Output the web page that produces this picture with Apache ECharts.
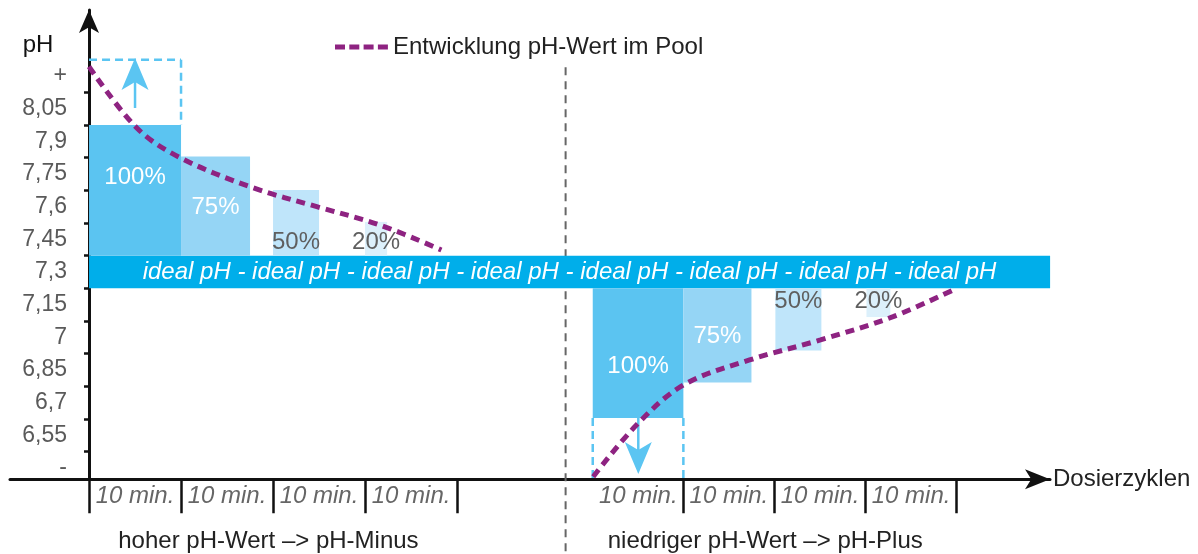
<!DOCTYPE html>
<html><head><meta charset="utf-8">
<script src="https://cdn.jsdelivr.net/npm/echarts@6/dist/echarts.min.js"></script>
<style>html,body{margin:0;padding:0;background:#fff}#c{width:1198px;height:554px}</style>
</head><body><div id="c"></div>
<script>
// ---------------- data ----------------
const yLabelValues = [6.4, 6.55, 6.7, 6.85, 7.0, 7.15, 7.3, 7.45, 7.6, 7.75, 7.9, 8.05, 8.2];
const yTickLabels  = ['-', '6,55', '6,7', '6,85', '7', '7,15', '7,3', '7,45', '7,6', '7,75', '7,9', '8,05', '+'];
const yTickValues  = [6.475, 6.625, 6.775, 6.925, 7.075, 7.225, 7.375, 7.525, 7.675, 7.825, 7.975, 8.125];
const xTickValues  = [0, 1, 2, 3, 4, 6.46, 7.45, 8.44, 9.43];
const xLabelValues = [0.5, 1.5, 2.5, 3.5, 5.97, 6.955, 7.945, 8.935];
const xLabelText   = '10 min.';
const groupLabelValues = [1.95, 7.35];
const groupLabels  = ['hoher pH-Wert –> pH-Minus', 'niedriger pH-Wert –> pH-Plus'];
const idealBand    = [[0, 10.446, 7.225, 7.375]];
const idealText    = Array(8).fill('ideal pH').join(' - ');
// [xStart, xEnd, pH at ideal-band edge, pH reached, dosing %]
const dosingBars = [
  [0,     1,    7.375, 7.975, 100],
  [1,     1.75, 7.375, 7.83,  75],
  [2,     2.5,  7.375, 7.677, 50],
  [3,     3.24, 7.375, 7.53,  20],
  [5.475, 6.46, 7.225, 6.63,  100],
  [6.46,  7.2,  7.225, 6.792, 75],
  [7.46,  7.96, 7.225, 6.939, 50],
  [8.45,  8.71, 7.225, 7.093, 20]
];
const phHighCurve = [[0, 8.243], [0.52, 7.961], [0.99, 7.825], [1.78, 7.687], [2.475, 7.600], [3.16, 7.516], [3.83, 7.401]];
const phLowCurve  = [[5.48, 6.36], [5.95, 6.597], [6.46, 6.781], [7.18, 6.896], [7.95, 6.988], [8.74, 7.095], [9.43, 7.225]];
const limitBoxEdges = [[0, 8.274, 1, 8.274], [1, 8.274, 1, 7.975], [5.475, 6.63, 5.475, 6.348], [6.46, 6.63, 6.46, 6.348]];
const limitArrows = [[0.5, 8.053, 8.283], [5.97, 6.63, 6.372]];
const divider = [[5.18, 8.24, 6.0]];
const seriesName = 'Entwicklung pH-Wert im Pool';
const X_MIN = -0.859, X_MAX = 10.445, Y_MIN = 6.348, Y_MAX = 8.503;

// ---------------- styles ----------------
const FONT = "'Liberation Sans', Arial, sans-serif";
const barColor = {100: '#5bc4f1', 75: '#95d5f5', 50: '#bfe5fa', 20: '#dcf0fb'};
const labelColor = {100: '#ffffff', 75: '#ffffff', 50: '#5f5f5f', 20: '#5f5f5f'};
const labelDist = {100: 78, 75: 48, 50: 13.5, 20: 13.5};
const LIGHT_BLUE = '#5bc5f2';
const PURPLE = '#8e2381';
const LEGEND_ICON = 'path://M0,0h10v5h-10z M14.3,0h10v5h-10z M28.6,0h10v5h-10z M42.9,0h10v5h-10z';

const chart = echarts.init(document.getElementById('c'), null, {renderer: 'canvas'});

function nearestIdx(arr, v) {
  let b = 0;
  for (let i = 1; i < arr.length; i++) if (Math.abs(arr[i] - v) < Math.abs(arr[b] - v)) b = i;
  return b;
}

const option = {
  animation: false,
  backgroundColor: '#fff',
  grid: {left: 10, right: 148, top: 10, bottom: 74.7, outerBoundsMode: 'none'},
  legend: {
    data: [{name: seriesName, icon: LEGEND_ICON}], left: 330, top: 30, itemWidth: 53, itemHeight: 5,
    textStyle: {fontSize: 24, color: '#222', fontFamily: FONT}
  },
  xAxis: [{
    type: 'value', min: X_MIN, max: X_MAX,
    axisLine: {show: true, onZero: false, symbol: ['none', 'arrow'], symbolSize: [15, 25],
      lineStyle: {color: '#111', width: 3}},
    axisTick: {show: true, customValues: xTickValues, length: 34, lineStyle: {color: '#111', width: 2.5}},
    axisLabel: {show: true, customValues: xLabelValues, formatter: () => xLabelText,
      fontStyle: 'italic', fontSize: 24, color: '#666', fontFamily: FONT, margin: 5},
    splitLine: {show: false},
    name: 'Dosierzyklen', nameLocation: 'end', nameGap: 3,
    nameTextStyle: {fontSize: 24, color: '#222', fontFamily: FONT}
  }, {
    type: 'value', min: X_MIN, max: X_MAX, position: 'bottom',
    axisLine: {show: false, onZero: false}, axisTick: {show: false}, splitLine: {show: false},
    axisLabel: {show: true, customValues: groupLabelValues,
      formatter: (v) => groupLabels[nearestIdx(groupLabelValues, v)],
      fontSize: 24, color: '#222', fontFamily: FONT, margin: 50}
  }],
  yAxis: {
    type: 'value', min: Y_MIN, max: Y_MAX, position: 'left', offset: -79,
    axisLine: {show: true, onZero: false, symbol: ['none', 'arrow'], symbolSize: [15, 23],
      lineStyle: {color: '#111', width: 3}},
    axisTick: {show: true, customValues: yTickValues, length: 5, lineStyle: {color: '#111', width: 2.5}},
    axisLabel: {show: true, customValues: yLabelValues,
      formatter: (v) => yTickLabels[nearestIdx(yLabelValues, v)],
      fontSize: 23, color: '#5a5a5a', fontFamily: FONT, margin: 22},
    splitLine: {show: false},
    name: 'pH', nameLocation: 'end', nameGap: -47,
    nameTextStyle: {fontSize: 24, color: '#111', fontFamily: FONT, padding: [0, 102, 0, 0]}
  },
  series: [
    {
      type: 'custom', name: 'divider', clip: false, z: 1,
      data: divider,
      renderItem: (params, api) => {
        const a = api.coord([api.value(0), api.value(1)]);
        const b = api.coord([api.value(0), api.value(2)]);
        return {type: 'line', shape: {x1: a[0], y1: a[1], x2: b[0], y2: b[1]},
          style: {stroke: '#666', lineWidth: 2, lineDash: [8, 6]}};
      }
    },
    {
      type: 'custom', name: 'ideal', clip: false, z: 2,
      data: idealBand,
      renderItem: (params, api) => {
        const a = api.coord([api.value(0), api.value(3)]);
        const b = api.coord([api.value(1), api.value(2)]);
        return {type: 'group', children: [
          {type: 'rect', shape: {x: a[0], y: a[1], width: b[0] - a[0], height: b[1] - a[1]},
            style: {fill: '#00aeea'}},
          {type: 'text', x: (a[0] + b[0]) / 2, y: (a[1] + b[1]) / 2,
            style: {text: idealText, fill: '#fff', fontSize: 24, fontStyle: 'italic', fontFamily: FONT,
              align: 'center', verticalAlign: 'middle'}}
        ]};
      }
    },
    {
      type: 'custom', name: 'dosing', clip: false, z: 2,
      data: dosingBars,
      renderItem: (params, api) => {
        const x0 = api.value(0), x1 = api.value(1), yb = api.value(2), ye = api.value(3), pct = api.value(4);
        const pA = api.coord([x0, yb]), pB = api.coord([x1, ye]);
        const left = Math.min(pA[0], pB[0]), top = Math.min(pA[1], pB[1]);
        const w = Math.abs(pB[0] - pA[0]), h = Math.abs(pB[1] - pA[1]);
        const dir = ye > yb ? -1 : 1;
        return {type: 'group', children: [
          {type: 'rect', shape: {x: left, y: top, width: w, height: h}, style: {fill: barColor[pct]}},
          {type: 'text', x: left + w / 2, y: pA[1] + dir * labelDist[pct], z2: 10,
            style: {text: pct + '%', fill: labelColor[pct], fontSize: 24, fontFamily: FONT,
              align: 'center', verticalAlign: 'middle'}}
        ]};
      }
    },
    {
      type: 'custom', name: 'limitBox', clip: false, z: 3,
      data: limitBoxEdges,
      renderItem: (params, api) => {
        const a = api.coord([api.value(0), api.value(1)]);
        const b = api.coord([api.value(2), api.value(3)]);
        return {type: 'line', shape: {x1: a[0], y1: a[1], x2: b[0], y2: b[1]},
          style: {stroke: LIGHT_BLUE, lineWidth: 2.5, lineDash: [8, 5]}};
      }
    },
    {
      type: 'custom', name: 'limitArrow', clip: false, z: 3,
      data: limitArrows,
      renderItem: (params, api) => {
        const from = api.coord([api.value(0), api.value(1)]);
        const tip = api.coord([api.value(0), api.value(2)]);
        const d = tip[1] < from[1] ? -1 : 1;
        const headLen = 32, headW = 13.5, notch = 24;
        const baseY = tip[1] - d * notch;
        return {type: 'group', children: [
          {type: 'line', shape: {x1: from[0], y1: from[1], x2: tip[0], y2: baseY},
            style: {stroke: LIGHT_BLUE, lineWidth: 2.5}},
          {type: 'polygon', shape: {points: [
            [tip[0], tip[1]], [tip[0] + headW, tip[1] - d * headLen],
            [tip[0], baseY], [tip[0] - headW, tip[1] - d * headLen]]},
            style: {fill: LIGHT_BLUE}}
        ]};
      }
    },
    {
      type: 'line', name: seriesName, data: phHighCurve, smooth: 0.35, symbol: 'none', z: 5,
      itemStyle: {color: PURPLE},
      lineStyle: {color: PURPLE, width: 5, type: [9, 6]}
    },
    {
      type: 'line', name: seriesName, data: phLowCurve, smooth: 0.35, symbol: 'none', z: 5,
      itemStyle: {color: PURPLE},
      lineStyle: {color: PURPLE, width: 5, type: [9, 6]}
    }
  ]
};
chart.setOption(option);
</script>
</body></html>
